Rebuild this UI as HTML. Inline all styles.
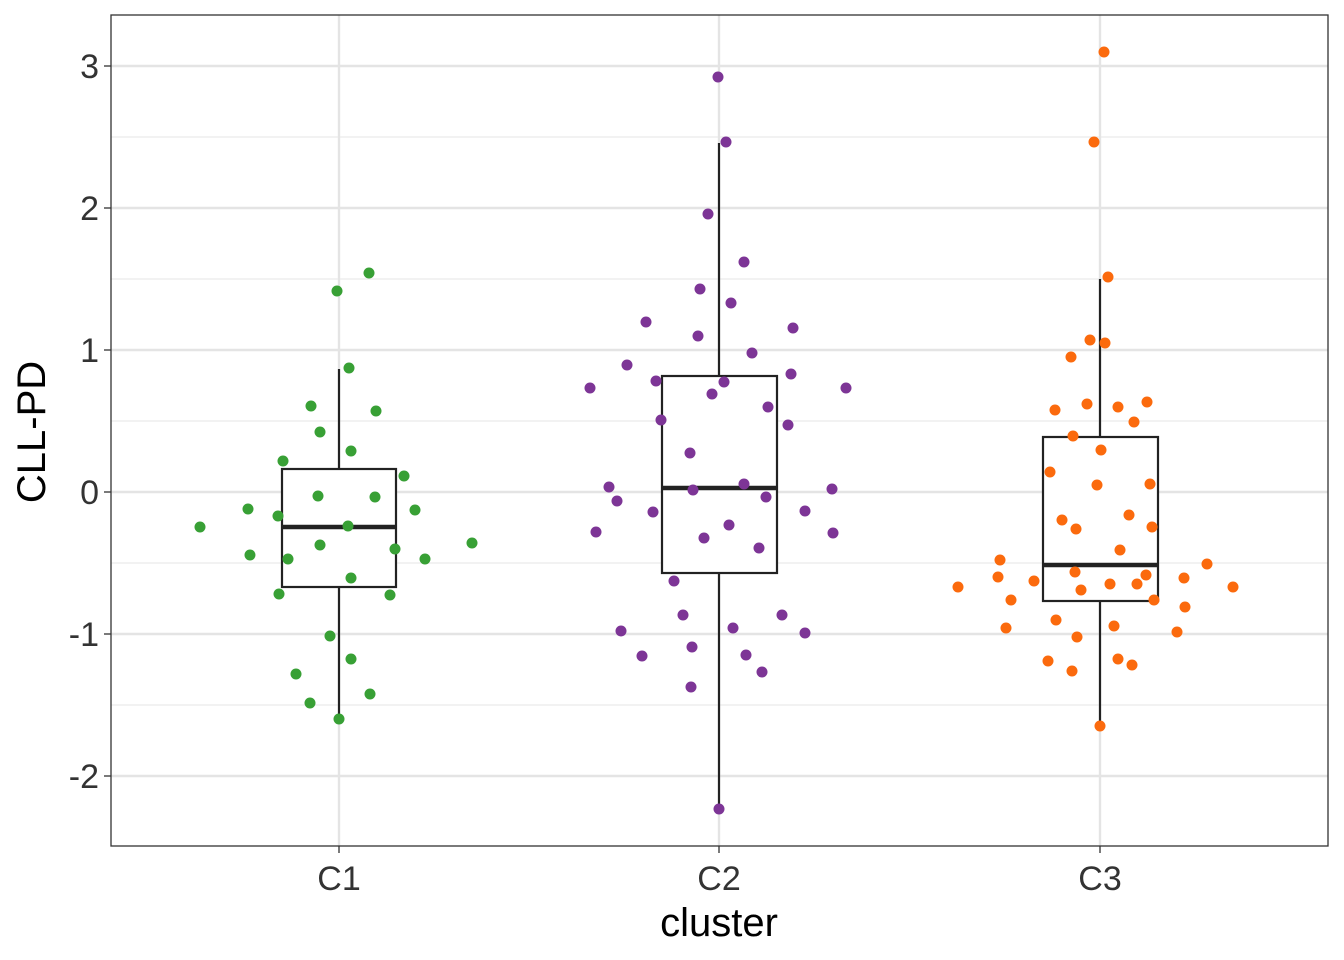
<!DOCTYPE html>
<html><head><meta charset="utf-8"><style>body{margin:0;background:#fff}svg{display:block}</style></head><body>
<svg width="1344" height="960" viewBox="0 0 1344 960" xmlns="http://www.w3.org/2000/svg" font-family="Liberation Sans, sans-serif">
<rect width="1344" height="960" fill="#fff"/>
<g stroke="#ebebeb" stroke-width="1.2">
<line x1="111" x2="1328" y1="137" y2="137"/><line x1="111" x2="1328" y1="279" y2="279"/><line x1="111" x2="1328" y1="421" y2="421"/><line x1="111" x2="1328" y1="563" y2="563"/><line x1="111" x2="1328" y1="705" y2="705"/>
</g>
<g stroke="#e4e4e4" stroke-width="2.4">
<line x1="111" x2="1328" y1="66" y2="66"/><line x1="111" x2="1328" y1="208" y2="208"/><line x1="111" x2="1328" y1="350" y2="350"/><line x1="111" x2="1328" y1="492" y2="492"/><line x1="111" x2="1328" y1="634" y2="634"/><line x1="111" x2="1328" y1="776" y2="776"/>
<line x1="339" x2="339" y1="15" y2="846"/><line x1="719" x2="719" y1="15" y2="846"/><line x1="1100" x2="1100" y1="15" y2="846"/>
</g>
<g stroke="#222" stroke-width="2.2" fill="#fff">
<line x1="339" x2="339" y1="369" y2="719"/><rect x="282" y="469" width="114" height="118"/><line x1="282" x2="396" y1="527" y2="527" stroke-width="4.5"/>
<line x1="719" x2="719" y1="143" y2="809"/><rect x="662" y="376" width="115" height="197"/><line x1="662" x2="777" y1="488" y2="488" stroke-width="4.5"/>
<line x1="1100" x2="1100" y1="279" y2="726"/><rect x="1043" y="437" width="115" height="164"/><line x1="1043" x2="1158" y1="565" y2="565" stroke-width="4.5"/>
</g>
<g fill="#38a035">
<circle cx="200" cy="527" r="5.5"/><circle cx="248" cy="509" r="5.5"/><circle cx="250" cy="555" r="5.5"/><circle cx="278" cy="516" r="5.5"/><circle cx="283" cy="461" r="5.5"/><circle cx="288" cy="559" r="5.5"/><circle cx="279" cy="594" r="5.5"/><circle cx="296" cy="674" r="5.5"/><circle cx="310" cy="703" r="5.5"/><circle cx="311" cy="406" r="5.5"/><circle cx="320" cy="432" r="5.5"/><circle cx="318" cy="496" r="5.5"/><circle cx="320" cy="545" r="5.5"/><circle cx="330" cy="636" r="5.5"/><circle cx="339" cy="719" r="5.5"/><circle cx="337" cy="291" r="5.5"/><circle cx="349" cy="368" r="5.5"/><circle cx="351" cy="451" r="5.5"/><circle cx="348" cy="526" r="5.5"/><circle cx="351" cy="578" r="5.5"/><circle cx="351" cy="659" r="5.5"/><circle cx="369" cy="273" r="5.5"/><circle cx="370" cy="694" r="5.5"/><circle cx="376" cy="411" r="5.5"/><circle cx="375" cy="497" r="5.5"/><circle cx="390" cy="595" r="5.5"/><circle cx="395" cy="549" r="5.5"/><circle cx="404" cy="476" r="5.5"/><circle cx="415" cy="510" r="5.5"/><circle cx="425" cy="559" r="5.5"/><circle cx="472" cy="543" r="5.5"/>
</g>
<g fill="#7d3596">
<circle cx="590" cy="388" r="5.5"/><circle cx="596" cy="532" r="5.5"/><circle cx="609" cy="487" r="5.5"/><circle cx="617" cy="501" r="5.5"/><circle cx="621" cy="631" r="5.5"/><circle cx="627" cy="365" r="5.5"/><circle cx="642" cy="656" r="5.5"/><circle cx="646" cy="322" r="5.5"/><circle cx="653" cy="512" r="5.5"/><circle cx="656" cy="381" r="5.5"/><circle cx="661" cy="420" r="5.5"/><circle cx="674" cy="581" r="5.5"/><circle cx="683" cy="615" r="5.5"/><circle cx="690" cy="453" r="5.5"/><circle cx="691" cy="687" r="5.5"/><circle cx="692" cy="647" r="5.5"/><circle cx="693" cy="490" r="5.5"/><circle cx="698" cy="336" r="5.5"/><circle cx="700" cy="289" r="5.5"/><circle cx="704" cy="538" r="5.5"/><circle cx="708" cy="214" r="5.5"/><circle cx="712" cy="394" r="5.5"/><circle cx="718" cy="77" r="5.5"/><circle cx="724" cy="382" r="5.5"/><circle cx="726" cy="142" r="5.5"/><circle cx="729" cy="525" r="5.5"/><circle cx="731" cy="303" r="5.5"/><circle cx="733" cy="628" r="5.5"/><circle cx="744" cy="262" r="5.5"/><circle cx="744" cy="484" r="5.5"/><circle cx="746" cy="655" r="5.5"/><circle cx="752" cy="353" r="5.5"/><circle cx="759" cy="548" r="5.5"/><circle cx="762" cy="672" r="5.5"/><circle cx="766" cy="497" r="5.5"/><circle cx="768" cy="407" r="5.5"/><circle cx="782" cy="615" r="5.5"/><circle cx="788" cy="425" r="5.5"/><circle cx="791" cy="374" r="5.5"/><circle cx="793" cy="328" r="5.5"/><circle cx="805" cy="511" r="5.5"/><circle cx="805" cy="633" r="5.5"/><circle cx="832" cy="489" r="5.5"/><circle cx="833" cy="533" r="5.5"/><circle cx="846" cy="388" r="5.5"/><circle cx="719" cy="809" r="5.5"/>
</g>
<g fill="#fb6a0d">
<circle cx="958" cy="587" r="5.5"/><circle cx="998" cy="577" r="5.5"/><circle cx="1000" cy="560" r="5.5"/><circle cx="1006" cy="628" r="5.5"/><circle cx="1011" cy="600" r="5.5"/><circle cx="1034" cy="581" r="5.5"/><circle cx="1048" cy="661" r="5.5"/><circle cx="1050" cy="472" r="5.5"/><circle cx="1055" cy="410" r="5.5"/><circle cx="1056" cy="620" r="5.5"/><circle cx="1062" cy="520" r="5.5"/><circle cx="1071" cy="357" r="5.5"/><circle cx="1073" cy="436" r="5.5"/><circle cx="1072" cy="671" r="5.5"/><circle cx="1075" cy="572" r="5.5"/><circle cx="1076" cy="529" r="5.5"/><circle cx="1077" cy="637" r="5.5"/><circle cx="1081" cy="590" r="5.5"/><circle cx="1087" cy="404" r="5.5"/><circle cx="1090" cy="340" r="5.5"/><circle cx="1094" cy="142" r="5.5"/><circle cx="1097" cy="485" r="5.5"/><circle cx="1101" cy="450" r="5.5"/><circle cx="1104" cy="52" r="5.5"/><circle cx="1105" cy="343" r="5.5"/><circle cx="1108" cy="277" r="5.5"/><circle cx="1110" cy="584" r="5.5"/><circle cx="1114" cy="626" r="5.5"/><circle cx="1118" cy="407" r="5.5"/><circle cx="1118" cy="659" r="5.5"/><circle cx="1120" cy="550" r="5.5"/><circle cx="1129" cy="515" r="5.5"/><circle cx="1132" cy="665" r="5.5"/><circle cx="1134" cy="422" r="5.5"/><circle cx="1137" cy="584" r="5.5"/><circle cx="1146" cy="575" r="5.5"/><circle cx="1147" cy="402" r="5.5"/><circle cx="1150" cy="484" r="5.5"/><circle cx="1152" cy="527" r="5.5"/><circle cx="1154" cy="600" r="5.5"/><circle cx="1177" cy="632" r="5.5"/><circle cx="1184" cy="578" r="5.5"/><circle cx="1185" cy="607" r="5.5"/><circle cx="1207" cy="564" r="5.5"/><circle cx="1233" cy="587" r="5.5"/><circle cx="1100" cy="726" r="5.5"/>
</g>
<rect x="111" y="15" width="1217" height="831" fill="none" stroke="#333" stroke-width="1.3"/>
<g stroke="#333" stroke-width="1.3">
<line x1="104" x2="111" y1="66" y2="66"/><line x1="104" x2="111" y1="208" y2="208"/><line x1="104" x2="111" y1="350" y2="350"/><line x1="104" x2="111" y1="492" y2="492"/><line x1="104" x2="111" y1="634" y2="634"/><line x1="104" x2="111" y1="776" y2="776"/>
<line x1="339" x2="339" y1="846" y2="853"/><line x1="719" x2="719" y1="846" y2="853"/><line x1="1100" x2="1100" y1="846" y2="853"/>
</g>
<g fill="#333" font-size="34" text-anchor="end">
<text x="99" y="78">3</text><text x="99" y="220">2</text><text x="99" y="362">1</text><text x="99" y="504">0</text><text x="99" y="646">-1</text><text x="99" y="788">-2</text>
</g>
<g fill="#333" font-size="34" text-anchor="middle">
<text x="339" y="890">C1</text><text x="719" y="890">C2</text><text x="1100" y="890">C3</text>
</g>
<text x="719" y="936" font-size="40" text-anchor="middle" fill="#000">cluster</text>
<text transform="translate(45,432) rotate(-90)" font-size="40" text-anchor="middle" fill="#000">CLL-PD</text>
</svg>
</body></html>
